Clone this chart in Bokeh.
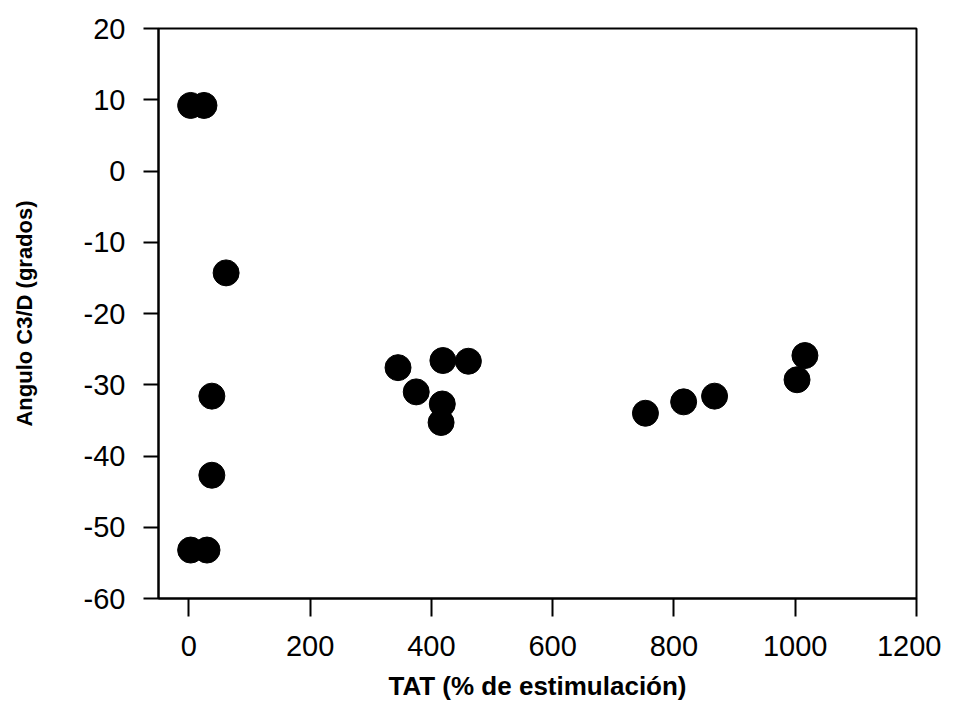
from bokeh.plotting import figure
from bokeh.models import Range1d, FixedTicker, PrintfTickFormatter
from bokeh.embed import file_html
from bokeh.resources import INLINE

# Data
tat = [3, 25, 61.5, 38, 38, 3, 30, 345, 419, 461, 375, 418, 416, 753, 816, 867, 1003, 1016]
angulo = [9.2, 9.2, -14.3, -31.6, -42.7, -53.2, -53.2, -27.6, -26.6, -26.7, -31.0, -32.7, -35.3,
          -34.0, -32.4, -31.6, -29.3, -25.9]
x_ticks = [0, 200, 400, 600, 800, 1000, 1200]
y_ticks = [20, 10, 0, -10, -20, -30, -40, -50, -60]

p = figure(width=941, height=709, output_backend="svg", toolbar_location=None,
           x_range=Range1d(-50, 1200), y_range=Range1d(-60, 20),
           min_border_left=158, min_border_right=25, min_border_top=28, min_border_bottom=111)

p.scatter(tat, angulo, size=26, color="black", line_color="black")

p.grid.visible = False
p.outline_line_color = "black"
p.outline_line_width = 2
p.background_fill_color = "white"
p.border_fill_color = "white"

p.xaxis.ticker = FixedTicker(ticks=x_ticks)
p.yaxis.ticker = FixedTicker(ticks=y_ticks)
p.xaxis.formatter = PrintfTickFormatter(format="%d")
p.yaxis.formatter = PrintfTickFormatter(format="%d")

for ax in (p.xaxis[0], p.yaxis[0]):
    ax.axis_line_color = "black"
    ax.axis_line_width = 2
    ax.major_tick_line_color = "black"
    ax.major_tick_line_width = 2
    ax.minor_tick_line_color = None
    ax.major_tick_in = 0
    ax.major_label_text_font = "Liberation Sans"
    ax.major_label_text_font_size = "29px"
    ax.major_label_text_color = "black"
    ax.axis_label_text_font = "Liberation Sans"
    ax.axis_label_text_font_style = "bold"
    ax.axis_label_text_color = "black"

p.xaxis.major_tick_out = 18
p.yaxis.major_tick_out = 15
p.xaxis.major_label_standoff = 19
p.yaxis.major_label_standoff = 18

p.xaxis.axis_label = "TAT (% de estimulación)"
p.xaxis.axis_label_text_font_size = "26px"
p.xaxis.axis_label_standoff = 12
p.yaxis.axis_label = "Angulo C3/D (grados)"
p.yaxis.axis_label_text_font_size = "22px"
p.yaxis.axis_label_standoff = 44

open("out.html", "w").write(file_html(p, INLINE))
